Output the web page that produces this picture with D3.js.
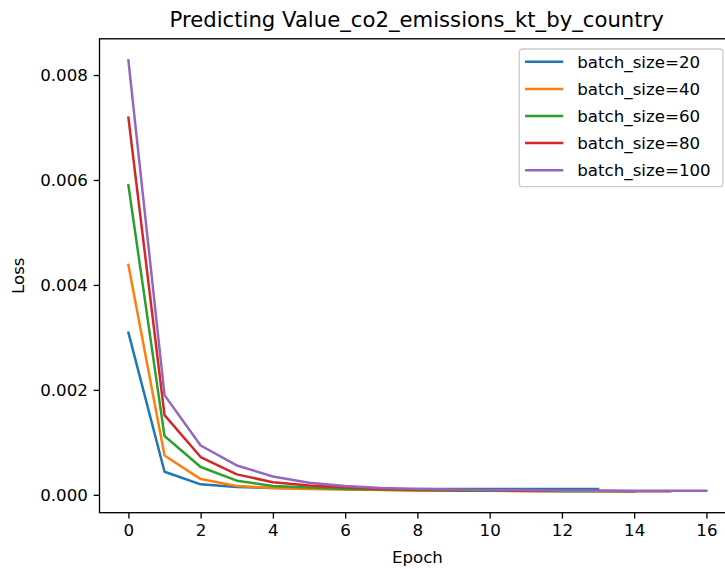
<!DOCTYPE html>
<html>
<head>
<meta charset="utf-8">
<script src="https://cdn.jsdelivr.net/npm/d3@7"></script>
<style>
  body { margin: 0; background: #fff; }
  svg { display: block; font-family: "DejaVu Sans", sans-serif; }
</style>
</head>
<body>
<svg id="chart" width="725" height="569"></svg>
<script>
const seriesNames = ["batch_size=20", "batch_size=40", "batch_size=60", "batch_size=80", "batch_size=100"];
const colors = ["#1f77b4", "#ff7f0e", "#2ca02c", "#d62728", "#9467bd"];
const loss20 = [0.00309, 0.00044, 0.00020, 0.00015, 0.00013, 0.00012, 0.00011, 0.000105, 0.00011, 0.00011, 0.00011, 0.00011, 0.00011, 0.00011];
const loss40 = [0.00438, 0.00075, 0.00030, 0.00017, 0.00013, 0.00011, 0.00010, 0.00009, 0.00008, 0.00008, 0.00008, 0.00007, 0.00007, 0.00007, 0.00007];
const loss60 = [0.00590, 0.00112, 0.00053, 0.00027, 0.00017, 0.00014, 0.00011, 0.00010, 0.00009, 0.00008, 0.00008, 0.00008, 0.00007, 0.00007, 0.00007];
const loss80 = [0.00719, 0.00152, 0.00072, 0.00039, 0.00024, 0.00018, 0.00014, 0.00011, 0.00010, 0.00009, 0.00009, 0.00008, 0.00008, 0.00008, 0.00007, 0.00007];
const loss100 = [0.00828, 0.00190, 0.00094, 0.00056, 0.00035, 0.00023, 0.00017, 0.00013, 0.00011, 0.00010, 0.00009, 0.00009, 0.00008, 0.00008, 0.00008, 0.00008, 0.00008];
const xTicks = [0, 2, 4, 6, 8, 10, 12, 14, 16];
const yTicks = [0.000, 0.002, 0.004, 0.006, 0.008];
const title = "Predicting Value_co2_emissions_kt_by_country";
const xLabel = "Epoch";
const yLabel = "Loss";

const allSeries = [loss20, loss40, loss60, loss80, loss100];

const L = 99.5, R = 735.3, T = 38.8, B = 512.7;
const svg = d3.select("#chart");
const fs = 16.67;

const maxEpoch = d3.max(allSeries, s => s.length - 1);
const xPad = maxEpoch * 0.05;
const x = d3.scaleLinear().domain([-xPad, maxEpoch + xPad]).range([L, R]);
const yMin = d3.min(allSeries, s => d3.min(s));
const yMax = d3.max(allSeries, s => d3.max(s));
const yPad = (yMax - yMin) * 0.05;
const y = d3.scaleLinear().domain([yMin - yPad, yMax + yPad]).range([B, T]);

svg.append("defs").append("clipPath").attr("id", "clip")
  .append("rect").attr("x", L).attr("y", T).attr("width", R - L).attr("height", B - T);

const line = d3.line().x((d, i) => x(i)).y(d => y(d));
const g = svg.append("g").attr("clip-path", "url(#clip)");
allSeries.forEach((s, k) => {
  g.append("path").datum(s)
    .attr("d", line)
    .attr("fill", "none")
    .attr("stroke", colors[k])
    .attr("stroke-width", 2.5)
    .attr("stroke-linejoin", "round")
    .attr("stroke-linecap", "square");
});

const xAxis = d3.axisBottom(x).tickValues(xTicks).tickFormat(d3.format("d")).tickSize(5.83).tickPadding(5.8);
const yAxis = d3.axisLeft(y).tickValues(yTicks).tickFormat(d3.format(".3f")).tickSize(5.83).tickPadding(5.8);

const gx = svg.append("g").attr("transform", `translate(0,${B})`).call(xAxis);
const gy = svg.append("g").attr("transform", `translate(${L},0)`).call(yAxis);
[gx, gy].forEach(a => {
  a.select(".domain").remove();
  a.selectAll(".tick line").attr("stroke", "#000").attr("stroke-width", 1.33);
  a.selectAll(".tick text").attr("fill", "#000").style("font-size", fs + "px").style("font-family", "DejaVu Sans");
});

svg.append("rect").attr("x", L).attr("y", T).attr("width", R - L).attr("height", B - T)
  .attr("fill", "none").attr("stroke", "#000").attr("stroke-width", 1.33);

svg.append("text").attr("x", 416.7).attr("y", 27).attr("text-anchor", "middle")
  .style("font-size", "21.2px").attr("fill", "#000").text(title);
svg.append("text").attr("x", (L + R) / 2).attr("y", 563).attr("text-anchor", "middle")
  .style("font-size", fs + "px").attr("fill", "#000").text(xLabel);
svg.append("text").attr("transform", `translate(24,${(T + B) / 2}) rotate(-90)`).attr("text-anchor", "middle")
  .style("font-size", fs + "px").attr("fill", "#000").text(yLabel);

const lg = svg.append("g");
lg.append("rect").attr("x", 519.3).attr("y", 49).attr("width", 723 - 519.3).attr("height", 186.7 - 49)
  .attr("rx", 3.3).attr("ry", 3.3)
  .attr("fill", "#fff").attr("fill-opacity", 0.8).attr("stroke", "#cccccc").attr("stroke-width", 1.33);
seriesNames.forEach((n, k) => {
  const cy = 61.8 + k * 27.1;
  lg.append("line").attr("x1", 525).attr("x2", 563.3).attr("y1", cy).attr("y2", cy)
    .attr("stroke", colors[k]).attr("stroke-width", 2.5);
  lg.append("text").attr("x", 577.3).attr("y", cy).attr("dy", "0.35em")
    .style("font-size", fs + "px").attr("fill", "#000").text(n);
});
</script>
</body>
</html>
